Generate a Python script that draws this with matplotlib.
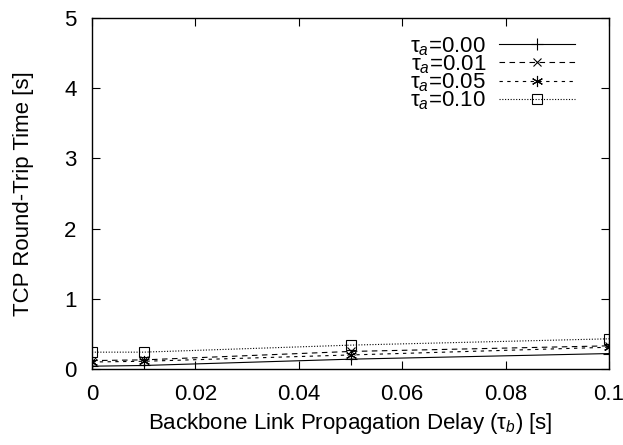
import numpy as np
import matplotlib
matplotlib.use("Agg")
import matplotlib.pyplot as plt

plt.rcParams['font.family'] = ['Liberation Sans', 'DejaVu Sans']
plt.rcParams['mathtext.fontset'] = 'custom'
plt.rcParams['mathtext.rm'] = 'Liberation Sans'
plt.rcParams['mathtext.it'] = 'Liberation Sans:italic'

#===================================== data ========================================
delay_b = [0.0, 0.01, 0.05, 0.1]
rtt_000 = [0.04, 0.05, 0.14, 0.22]
rtt_001 = [0.12, 0.13, 0.25, 0.33]
rtt_005 = [0.10, 0.11, 0.20, 0.31]
rtt_010 = [0.24, 0.24, 0.34, 0.43]

labels = [r"$\mathrm{\tau}_a$=0.00", r"$\mathrm{\tau}_a$=0.01",
          r"$\mathrm{\tau}_a$=0.05", r"$\mathrm{\tau}_a$=0.10"]
xticks = [0, 0.02, 0.04, 0.06, 0.08, 0.1]
xticklabels = ["0", "0.02", "0.04", "0.06", "0.08", "0.1"]
yticks = [0, 1, 2, 3, 4, 5]

#===================================== plot ========================================
size = 16
fig = plt.figure(figsize=(6.23, 4.45), dpi=100)
ax = fig.add_axes([92/623, 1-369/445, (609-92)/623, (369-18)/445])

lw = 0.8
ax.plot(delay_b, rtt_000, color='k', lw=lw, ls='-', marker='+', ms=8, mew=0.8, label=labels[0])
ax.plot(delay_b, rtt_001, color='k', lw=lw, ls=(0, (5, 4)), marker='x', ms=6, mew=0.8, label=labels[1])
ax.plot(delay_b, rtt_005, color='k', lw=lw, ls=(0, (3, 4)), marker=(6, 2, 0), ms=8, mew=0.8, label=labels[2])
ax.plot(delay_b, rtt_010, color='k', lw=lw, ls=(0, (1, 1.5)), marker='s', ms=7, mew=0.8,
        mfc='none', label=labels[3])

ax.set_xlim(0, 0.1)
ax.set_ylim(0, 5)
ax.set_xticks(xticks)
ax.set_xticklabels(xticklabels)
ax.set_yticks(yticks)
ax.tick_params(axis='both', direction='in', top=True, right=True, length=6, width=0.8,
               labelsize=size)
ax.tick_params(axis='x', pad=11)
ax.tick_params(axis='y', pad=11)
for s in ax.spines.values():
    s.set_linewidth(1.0)

ax.set_xlabel(r"Backbone Link Propagation Delay ($\mathrm{\tau}_b$) [s]", fontsize=size, labelpad=4)
ax.set_ylabel("TCP Round-Trip Time [s]", fontsize=size, labelpad=22)

leg = ax.legend(loc='upper right', bbox_to_anchor=(575/623, 1-35/445),
                bbox_transform=fig.transFigure, frameon=False, markerfirst=False,
                numpoints=1, handlelength=3.4, handletextpad=0.6, labelspacing=-0.2,
                borderpad=0, borderaxespad=0, fontsize=size)

plt.savefig("out.png", dpi=100)
